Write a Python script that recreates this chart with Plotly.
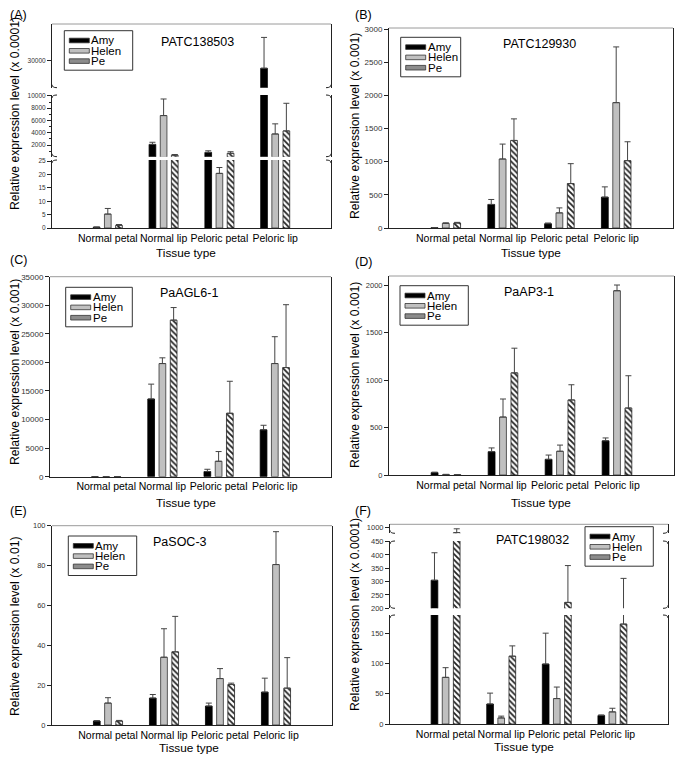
import plotly.graph_objects as go

# ---------------- data ----------------
categories = ["Normal petal", "Normal lip", "Peloric petal", "Peloric lip"]
series = ["Amy", "Helen", "Pe"]

# (A) PATC138503  (x 0.0001)
a_amy = [0.3, 2100, 800, 27800]
a_amy_sd = [0.05, 350, 260, 9200]
a_helen = [5.2, 6800, 20.4, 3800]
a_helen_sd = [2.1, 2700, 2.2, 1650]
a_pe = [1.0, 350, 650, 4300]
a_pe_sd = [0.3, 100, 260, 4500]

# (B) PATC129930  (x 0.001)
b_amy = [5, 355, 65, 465]
b_amy_sd = [2, 75, 10, 155]
b_helen = [70, 1040, 228, 1890]
b_helen_sd = [8, 225, 75, 840]
b_pe = [75, 1320, 670, 1015]
b_pe_sd = [10, 325, 300, 285]

# (C) PaAGL6-1  (x 0.001)
c_amy = [20, 13600, 900, 8200]
c_amy_sd = [0, 2600, 400, 800]
c_helen = [20, 19800, 2700, 19800]
c_helen_sd = [0, 1000, 1700, 4700]
c_pe = [20, 27400, 11100, 19100]
c_pe_sd = [0, 2200, 5600, 11000]

# (D) PaAP3-1  (x 0.001)
d_amy = [25, 245, 165, 360]
d_amy_sd = [5, 40, 45, 30]
d_helen = [5, 610, 250, 1940]
d_helen_sd = [2, 190, 65, 60]
d_pe = [2, 1075, 790, 705]
d_pe_sd = [1, 260, 160, 340]

# (E) PaSOC-3  (x 0.01)
e_amy = [2.0, 13.5, 9.5, 16.5]
e_amy_sd = [0.2, 1.8, 1.5, 7.0]
e_helen = [11.0, 34.0, 23.3, 80.5]
e_helen_sd = [2.7, 14.3, 5.0, 16.5]
e_pe = [2.0, 36.7, 20.3, 18.5]
e_pe_sd = [0.3, 17.8, 0.7, 15.3]

# (F) PATC198032  (x 0.0001)
f_amy = [305, 33, 99, 14]
f_amy_sd = [103, 18, 51, 1]
f_helen = [77, 10, 42, 20]
f_helen_sd = [16, 3, 19, 6]
f_pe = [910, 112, 222, 165]
f_pe_sd = [65, 17, 138, 147]

# ---------------- layout helpers (page pixels -> paper) ----------------
OFF = 8
W = 683 - 2 * OFF
H = 763 - 2 * OFF


def PX(x):
    return (x - OFF) / W


def PY(y):
    return 1 - (y - OFF) / H


FONT = "Liberation Sans, Arial, sans-serif"
LC = "#222"
EC = "#444"

fills = {"Amy": "black", "Helen": "#c0c0c0", "Pe": "white"}
edges = {"Amy": "black", "Helen": "#333", "Pe": "#222"}
patterns = {"Pe": dict(shape="\\", size=4, solidity=0.45, fgcolor="#222",
                       bgcolor="white", fillmode="replace")}
swatch_fill = {"Amy": "black", "Helen": "#c0c0c0", "Pe": "#8c8c8c"}

panels = [
    dict(tag="(A)", tagpos=(8, 15), gene="PATC138503", genepos=(197, 42),
         unit="Relative expression level (x 0.0001)", ytpos=(15, 114),
         xtpos=(186, 253), vals=[a_amy, a_helen, a_pe], sd=[a_amy_sd, a_helen_sd, a_pe_sd],
         xdom=(52, 331), tfs=6.5, legend=(64.3, 30.7, 132.7),
         segs=[dict(bot=228, top=160, range=[0, 25.4], ticks=dict(dtick=5, tick0=0)),
               dict(bot=156.7, top=95, range=[100, 10150],
                    ticks=dict(dtick=2000, tick0=0,
                               minor=dict(dtick=1000, tick0=0, ticks="outside", ticklen=2, tickcolor=LC))),
               dict(bot=87.7, top=24, range=[22000, 41000], ticks=dict(tickvals=[30000]))]),
    dict(tag="(B)", tagpos=(353, 15), gene="PATC129930", genepos=(539, 44),
         unit="Relative expression level (x 0.001)", ytpos=(355, 126),
         xtpos=(531, 253), vals=[b_amy, b_helen, b_pe], sd=[b_amy_sd, b_helen_sd, b_pe_sd],
         xdom=(389, 673), tfs=8, legend=(400.7, 37.3, 460.7),
         segs=[dict(bot=228, top=28, range=[0, 3015], ticks=dict(dtick=500, tick0=0))]),
    dict(tag="(C)", tagpos=(8, 260), gene="PaAGL6-1", genepos=(189, 293),
         unit="Relative expression level (x 0.001)", ytpos=(15, 372),
         xtpos=(186, 503), vals=[c_amy, c_helen, c_pe], sd=[c_amy_sd, c_helen_sd, c_pe_sd],
         xdom=(50, 331), tfs=8, legend=(65.7, 287.3, 132.3),
         segs=[dict(bot=476.7, top=276.7, range=[0, 35000], ticks=dict(dtick=5000, tick0=0))]),
    dict(tag="(D)", tagpos=(353, 262), gene="PaAP3-1", genepos=(529, 292),
         unit="Relative expression level (x 0.001)", ytpos=(355, 375),
         xtpos=(541, 503), vals=[d_amy, d_helen, d_pe], sd=[d_amy_sd, d_helen_sd, d_pe_sd],
         xdom=(389, 674), tfs=7.5, legend=(400, 285.7, 468.3),
         segs=[dict(bot=475, top=276, range=[0, 2095], ticks=dict(dtick=500, tick0=0))]),
    dict(tag="(E)", tagpos=(8, 511), gene="PaSOC-3", genepos=(180, 542),
         unit="Relative expression level (x 0.01)", ytpos=(15, 626),
         xtpos=(189, 747.5), vals=[e_amy, e_helen, e_pe], sd=[e_amy_sd, e_helen_sd, e_pe_sd],
         xdom=(52, 332), tfs=7.5, legend=(68.3, 536, 136.7),
         segs=[dict(bot=725, top=525.7, range=[0, 100], ticks=dict(dtick=20, tick0=0))]),
    dict(tag="(F)", tagpos=(353, 511), gene="PATC198032", genepos=(532, 540),
         unit="Relative expression level (x 0.0001)", ytpos=(355, 615),
         xtpos=(524, 747), vals=[f_amy, f_helen, f_pe], sd=[f_amy_sd, f_helen_sd, f_pe_sd],
         xdom=(390, 668), tfs=7.5, legend=(585, 526.7, 653.3),
         segs=[dict(bot=724, top=615, range=[0, 180], ticks=dict(dtick=50, tick0=0)),
               dict(bot=608.3, top=541, range=[200, 452], ticks=dict(dtick=50, tick0=0)),
               dict(bot=533.3, top=524.3, range=[900, 1050], ticks=dict(tickvals=[1000]))]),
]

fig = go.Figure()
layout = {}
shapes = []
annotations = []


def hook(x, y, d, segment_above):
    """small break mark at a segment end: x,y page px; d horizontal direction (px)."""
    dy = -3 if segment_above else 3
    x0, y0 = PX(x), PY(y + dy)
    x1, y1 = PX(x), PY(y)
    x2, y2 = PX(x + d), PY(y)
    return dict(type="path", xref="paper", yref="paper",
                path=f"M {x0},{y0} Q {x1},{y1} {x2},{y2}",
                line=dict(color=LC, width=1))


yi = 0
for xi, p in enumerate(panels, start=1):
    xname = "x" if xi == 1 else f"x{xi}"
    xkey = "xaxis" if xi == 1 else f"xaxis{xi}"
    ynames = []
    for seg in p["segs"]:
        yi += 1
        yname = "y" if yi == 1 else f"y{yi}"
        ykey = "yaxis" if yi == 1 else f"yaxis{yi}"
        ynames.append(yname)
        lo = seg["range"][0]
        ax = dict(domain=[PY(seg["bot"]), PY(seg["top"])], range=seg["range"], anchor=xname,
                  showline=True, mirror=True, linecolor=LC, linewidth=1,
                  ticks="outside", ticklen=4, tickcolor=LC, tickwidth=1,
                  tickformat="d", automargin=False,
                  tickfont=dict(size=p["tfs"], color="#333", family=FONT),
                  showgrid=False, zeroline=False, fixedrange=True)
        ax.update(seg["ticks"])
        layout[ykey] = ax
        for k, name in enumerate(series):
            vals, sds = p["vals"][k], p["sd"][k]
            # on a broken axis, a bar whose value and error stay below this segment is not drawn here
            seg_vals = [v if (lo == 0 or v + s > lo) else None for v, s in zip(vals, sds)]
            lw = [0.8 if (v is not None and v > lo) else 0 for v in seg_vals]
            marker = dict(color=fills[name], line=dict(color=edges[name], width=lw))
            if name in patterns:
                marker["pattern"] = patterns[name]
            fig.add_trace(go.Bar(
                x=categories, y=seg_vals, name=name,
                error_y=dict(type="data", symmetric=False, array=sds,
                             arrayminus=[0] * len(categories), color=EC, thickness=1, width=3),
                marker=marker, xaxis=xname, yaxis=yname, showlegend=False,
                hoverinfo="x+y+name"))
    x0, x1 = p["xdom"]
    layout[xkey] = dict(domain=[PX(x0), PX(x1)], range=[-1, 4], type="category",
                        anchor=ynames[0], showline=True, linecolor=LC, linewidth=1,
                        ticks="", tickangle=0, automargin=False,
                        tickfont=dict(size=10.5, color="black", family=FONT),
                        showgrid=False, zeroline=False, fixedrange=True)
    # top frame line
    top = p["segs"][-1]["top"]
    shapes.append(dict(type="line", xref="paper", yref="paper", x0=PX(x0), x1=PX(x1),
                       y0=PY(top), y1=PY(top), line=dict(color="#9a9a9a", width=1)))
    # break marks
    segs = p["segs"]
    for i in range(len(segs) - 1):
        lower, upper = segs[i], segs[i + 1]
        for xa, d in ((x0, 5), (x1, -5)):
            shapes.append(hook(xa, lower["top"], d, segment_above=False))
            shapes.append(hook(xa, upper["bot"], d, segment_above=True))
    # legend (manual box)
    lx0, ly0, lx1 = p["legend"]
    shapes.append(dict(type="rect", xref="paper", yref="paper", x0=PX(lx0), x1=PX(lx1),
                       y0=PY(ly0 + 39.5), y1=PY(ly0), line=dict(color="#333", width=1),
                       fillcolor="white", layer="above"))
    for i, name in enumerate(series):
        ry = ly0 + 9.8 + 10.3 * i
        shapes.append(dict(type="rect", xref="paper", yref="paper", x0=PX(lx0 + 5), x1=PX(lx0 + 25),
                           y0=PY(ry + 2.3), y1=PY(ry - 2.3), fillcolor=swatch_fill[name],
                           line=dict(color="#333", width=0.8), layer="above"))
        annotations.append(dict(xref="paper", yref="paper", x=PX(lx0 + 26), y=PY(ry), text=name,
                                showarrow=False, xanchor="left", yanchor="middle", borderpad=0,
                                font=dict(size=11.5, color="black", family=FONT)))
    # texts
    tx, ty = p["tagpos"]
    annotations.append(dict(xref="paper", yref="paper", x=PX(max(tx, OFF)), y=PY(ty), text=p["tag"],
                            showarrow=False, xanchor="left", yanchor="middle",
                            font=dict(size=12.5, color="black", family=FONT)))
    gx, gy = p["genepos"]
    annotations.append(dict(xref="paper", yref="paper", x=PX(gx), y=PY(gy), text=p["gene"],
                            showarrow=False, xanchor="center", yanchor="middle",
                            font=dict(size=12.5, color="black", family=FONT)))
    yx, yy = p["ytpos"]
    annotations.append(dict(xref="paper", yref="paper", x=PX(max(yx, OFF + 7)), y=PY(yy), text=p["unit"],
                            showarrow=False, textangle=-90, xanchor="center", yanchor="middle",
                            font=dict(size=12.2, color="black", family=FONT)))
    ttx, tty = p["xtpos"]
    annotations.append(dict(xref="paper", yref="paper", x=PX(ttx), y=PY(tty), text="Tissue type",
                            showarrow=False, xanchor="center", yanchor="middle",
                            font=dict(size=11.8, color="black", family=FONT)))

fig.update_layout(
    template="none",
    width=W, height=H, margin=dict(l=0, r=0, t=0, b=0, autoexpand=False),
    paper_bgcolor="white", plot_bgcolor="white",
    barmode="group", bargap=0.4, bargroupgap=0.4,
    showlegend=False, font=dict(family=FONT, color="black"),
    shapes=shapes, annotations=annotations, **layout)

fig.write_html("out.html")
